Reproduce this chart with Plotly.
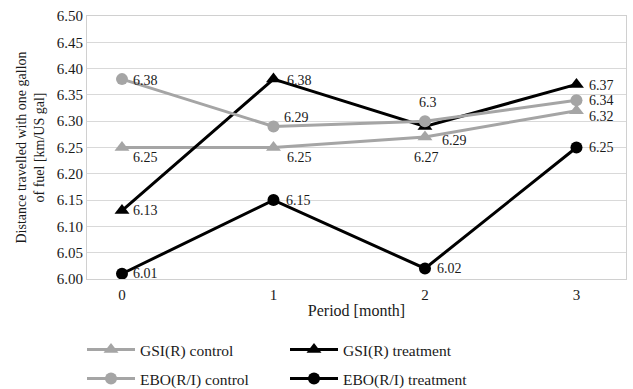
import plotly.graph_objects as go

periods = [0, 1, 2, 3]
period_labels = ["0", "1", "2", "3"]

gsi_control = [6.25, 6.25, 6.27, 6.32]
gsi_treatment = [6.13, 6.38, 6.29, 6.37]
ebo_control = [6.38, 6.29, 6.30, 6.34]
ebo_treatment = [6.01, 6.15, 6.02, 6.25]

gsi_control_text = ["6.25", "6.25", "6.27", "6.32"]
gsi_treatment_text = ["6.13", "6.38", "6.29", "6.37"]
ebo_control_text = ["6.38", "6.29", "6.3", "6.34"]
ebo_treatment_text = ["6.01", "6.15", "6.02", "6.25"]

y_ticks = [6.00, 6.05, 6.10, 6.15, 6.20, 6.25, 6.30, 6.35, 6.40, 6.45, 6.50]

# label placement (style): anchor, x offset px, y offset px (down positive)
gsi_control_lbl = [("left", 10, 10), ("left", 13, 10), ("center", 2, 21), ("left", 12, 6)]
gsi_treatment_lbl = [("left", 10, 0), ("left", 13, 1), ("left", 16, 14), ("left", 12, 1)]
ebo_control_lbl = [("left", 10, 1), ("left", 10, -9), ("center", 3, -19), ("left", 12, 0)]
ebo_treatment_lbl = [("left", 10, 0), ("left", 12, 0), ("left", 11, 0), ("left", 12, 0)]

GRAY = "#a5a5a5"
BLACK = "#000000"
FONT = "Liberation Serif"
TXT = "#1a1a1a"

W, H = 633, 389
L, R, T, B = 87, 7, 16, 110
ph = H - T - B


def py(px):
    return (H - B - px) / ph


series = [
    ("GSI(R) control", gsi_control, gsi_control_text, gsi_control_lbl, GRAY, "triangle-up", 13, "legend"),
    ("GSI(R) treatment", gsi_treatment, gsi_treatment_text, gsi_treatment_lbl, BLACK, "triangle-up", 13, "legend"),
    ("EBO(R/I) control", ebo_control, ebo_control_text, ebo_control_lbl, GRAY, "circle", 12, "legend2"),
    ("EBO(R/I) treatment", ebo_treatment, ebo_treatment_text, ebo_treatment_lbl, BLACK, "circle", 12, "legend2"),
]

fig = go.Figure()
annotations = []
for name, vals, texts, lbls, color, sym, msize, leg in series:
    fig.add_trace(go.Scatter(
        x=periods, y=vals, name=name, mode="lines+markers",
        line=dict(color=color, width=3),
        marker=dict(symbol=sym, size=msize, color=color),
        legend=leg, cliponaxis=False))
    for xv, yv, t, (anc, dx, dy) in zip(periods, vals, texts, lbls):
        annotations.append(dict(
            x=xv, y=yv, xref="x", yref="y", text=t, showarrow=False,
            xanchor=anc, yanchor="middle", xshift=dx, yshift=-dy,
            borderpad=0,
            font=dict(family=FONT, size=14, color=TXT)))

legend_common = dict(
    orientation="h", xanchor="left", yanchor="middle",
    entrywidth=140, entrywidthmode="pixels", itemwidth=48,
    font=dict(family=FONT, size=15.5, color=TXT),
    bgcolor="rgba(0,0,0,0)", traceorder="normal",
    itemclick=False, itemdoubleclick=False,
)

fig.update_layout(
    width=W, height=H,
    margin=dict(l=L, r=R, t=T, b=B, autoexpand=False),
    plot_bgcolor="white", paper_bgcolor="white",
    font=dict(family=FONT, size=14, color=TXT),
    showlegend=True,
    annotations=annotations,
    legend=dict(x=(82 - L) / (W - L - R), y=py(350), **legend_common),
    legend2=dict(x=(82 - L) / (W - L - R), y=py(379), **legend_common),
    xaxis=dict(
        range=[-0.231, 3.327], tickvals=periods, ticktext=period_labels,
        showgrid=False, zeroline=False,
        showline=True, linecolor="#d0d0d0", linewidth=1, mirror=True,
        ticks="", tickfont=dict(family=FONT, size=15, color=TXT), ticklabelstandoff=2,
        title=dict(text="Period [month]", font=dict(family=FONT, size=16, color=TXT), standoff=2),
    ),
    yaxis=dict(
        range=[6.0, 6.5], tickvals=y_ticks, tickformat=".2f",
        showgrid=True, gridcolor="#d9d9d9", gridwidth=1, zeroline=False,
        showline=True, linecolor="#d0d0d0", linewidth=1, mirror=True,
        ticks="", tickfont=dict(family=FONT, size=15, color=TXT),
        title=dict(text="Distance travelled with one gallon<br>of fuel [km/US gal]",
                   font=dict(family=FONT, size=14, color=TXT), standoff=8),
    ),
)

fig.write_html("out.html", config={"displayModeBar": False},
               post_script="document.body.style.margin='0';document.body.style.overflow='hidden';")
